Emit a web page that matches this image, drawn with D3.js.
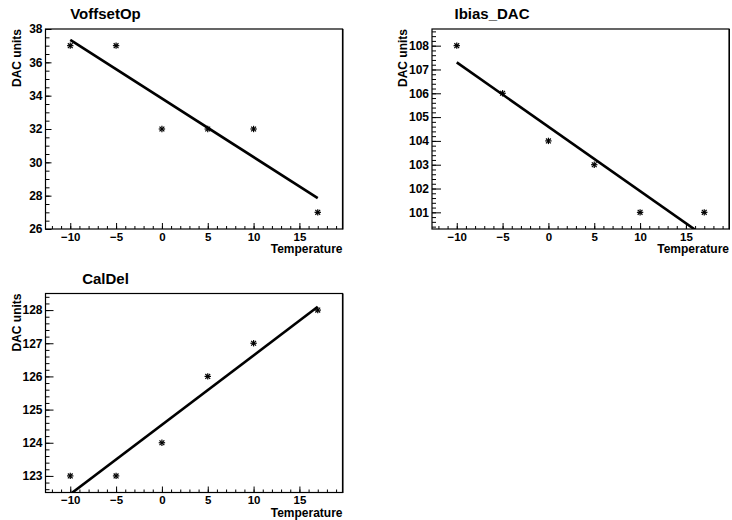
<!DOCTYPE html>
<html>
<head>
<meta charset="utf-8">
<style>
  body { margin: 0; background: #fff; }
  svg { display: block; font-family: "Liberation Sans", Arial, Helvetica, sans-serif; font-weight: bold; }
</style>
</head>
<body>
<svg width="732" height="520"></svg>
<script src="https://cdn.jsdelivr.net/npm/d3@7"></script>
<script>

// measured temperatures (x) for every panel
var temperature = [-10, -5, 0, 5, 10, 17];

// DAC values per register
var voffsetOp = [37, 37, 32, 32, 32, 27];
var ibiasDac  = [108, 106, 104, 103, 101, 101];
var calDel    = [123, 123, 124, 126, 127, 128];

// straight-line fits as [x, y] end points
var voffsetOpFit = [[-10, 37.35], [17, 27.85]];
var ibiasDacFit  = [[-10, 107.3], [17, 100.0]];
var calDelFit    = [[-10, 122.45], [17, 128.1]];

var titles = ["VoffsetOp", "Ibias_DAC", "CalDel"];

// axis ranges and tick labels
var xRange = [-12.7, 19.7];
var xTicks = [-10, -5, 0, 5, 10, 15];
var voffsetOpRange = [26, 38];
var voffsetOpTicks = [26, 28, 30, 32, 34, 36, 38];
var ibiasDacRange = [100.3, 108.7];
var ibiasDacTicks = [101, 102, 103, 104, 105, 106, 107, 108];
var calDelRange = [122.5, 128.5];
var calDelTicks = [123, 124, 125, 126, 127, 128];

var svg = d3.select("svg");

// frame boxes (pixel layout of the three pads)
var panels = [
  {title: titles[0], ys: voffsetOp, fit: voffsetOpFit, yRange: voffsetOpRange, yTicks: voffsetOpTicks, yMinor: 0.5, yTick: 6,
   x: 45.5, y: 29, w: 297, h: 200},
  {title: titles[1], ys: ibiasDac, fit: ibiasDacFit, yRange: ibiasDacRange, yTicks: ibiasDacTicks, yMinor: 0.2, yTick: 9,
   x: 432, y: 29, w: 297, h: 200},
  {title: titles[2], ys: calDel, fit: calDelFit, yRange: calDelRange, yTicks: calDelTicks, yMinor: 0.2, yTick: 8,
   x: 45.5, y: 293.5, w: 297, h: 199}
];

function minorTicks(lo, hi, step) {
  var out = [];
  var start = Math.ceil(lo / step - 1e-9);
  for (var i = start; i * step <= hi + 1e-9; i++) out.push(+(i * step).toFixed(4));
  return out;
}

panels.forEach(function(p, idx) {
  var g = svg.append("g").attr("transform", "translate(" + p.x + "," + p.y + ")");

  var x = d3.scaleLinear().domain(xRange).range([0, p.w]);
  var y = d3.scaleLinear().domain(p.yRange).range([p.h, 0]);

  // clip for the fit line
  g.append("clipPath").attr("id", "clip" + idx)
    .append("rect").attr("width", p.w).attr("height", p.h);

  // minor ticks
  g.append("g").attr("transform", "translate(0," + p.h + ")")
    .call(d3.axisBottom(x).tickValues(minorTicks(xRange[0], xRange[1], 1)).tickSize(-3).tickFormat(""))
    .call(function(a) { a.select(".domain").remove(); });
  g.append("g")
    .call(d3.axisLeft(y).tickValues(minorTicks(p.yRange[0], p.yRange[1], p.yMinor)).tickSize(-4).tickFormat(""))
    .call(function(a) { a.select(".domain").remove(); });

  // major ticks with labels
  var xa = g.append("g").attr("transform", "translate(0," + p.h + ")")
    .call(d3.axisBottom(x).tickValues(xTicks).tickSize(-6).tickPadding(3.5).tickFormat(d3.format("d")));
  xa.select(".domain").remove();
  xa.selectAll("text").attr("font-size", 11.5).attr("font-family", null).attr("fill", "#000");

  var ya = g.append("g")
    .call(d3.axisLeft(y).tickValues(p.yTicks).tickSize(-p.yTick).tickPadding(3).tickFormat(d3.format("d")));
  ya.select(".domain").remove();
  ya.selectAll("text").attr("font-size", 12).attr("font-family", null).attr("fill", "#000");

  g.selectAll(".tick line").attr("stroke", "#000");

  // frame
  g.append("rect").attr("width", p.w).attr("height", p.h)
    .attr("fill", "none").attr("stroke", "#000").attr("stroke-width", 1.2);
  g.append("line").attr("x1", p.w + 0.5).attr("x2", p.w + 0.5).attr("y1", 0).attr("y2", p.h + 0.5)
    .attr("stroke", "#000").attr("stroke-width", 1);

  // fit line
  g.append("line")
    .attr("clip-path", "url(#clip" + idx + ")")
    .attr("x1", x(p.fit[0][0])).attr("y1", y(p.fit[0][1]))
    .attr("x2", x(p.fit[1][0])).attr("y2", y(p.fit[1][1]))
    .attr("stroke", "#000").attr("stroke-width", 2.6);

  // asterisk markers
  var pts = temperature.map(function(t, i) { return [t, p.ys[i]]; });
  var m = g.selectAll(".mk").data(pts).enter().append("g")
    .attr("class", "mk")
    .attr("transform", function(d) { return "translate(" + x(d[0]) + "," + y(d[1]) + ")"; });
  var segs = [[-3.2, 0, 3.2, 0], [0, -3.2, 0, 3.2], [-2.4, -2.4, 2.4, 2.4], [-2.4, 2.4, 2.4, -2.4]];
  segs.forEach(function(s) {
    m.append("line").attr("x1", s[0]).attr("y1", s[1]).attr("x2", s[2]).attr("y2", s[3])
      .attr("stroke", "#000").attr("stroke-width", 1.2);
  });

  // titles
  g.append("text").attr("x", 60).attr("y", -10).attr("text-anchor", "middle")
    .attr("font-size", 15).text(p.title);
  g.append("text").attr("x", p.w).attr("y", p.h + 24).attr("text-anchor", "end")
    .attr("font-size", 12).text("Temperature");
  g.append("text").attr("transform", "translate(-25,0) rotate(-90)").attr("text-anchor", "end")
    .attr("font-size", 12).text("DAC units");
});

</script>
</body>
</html>
